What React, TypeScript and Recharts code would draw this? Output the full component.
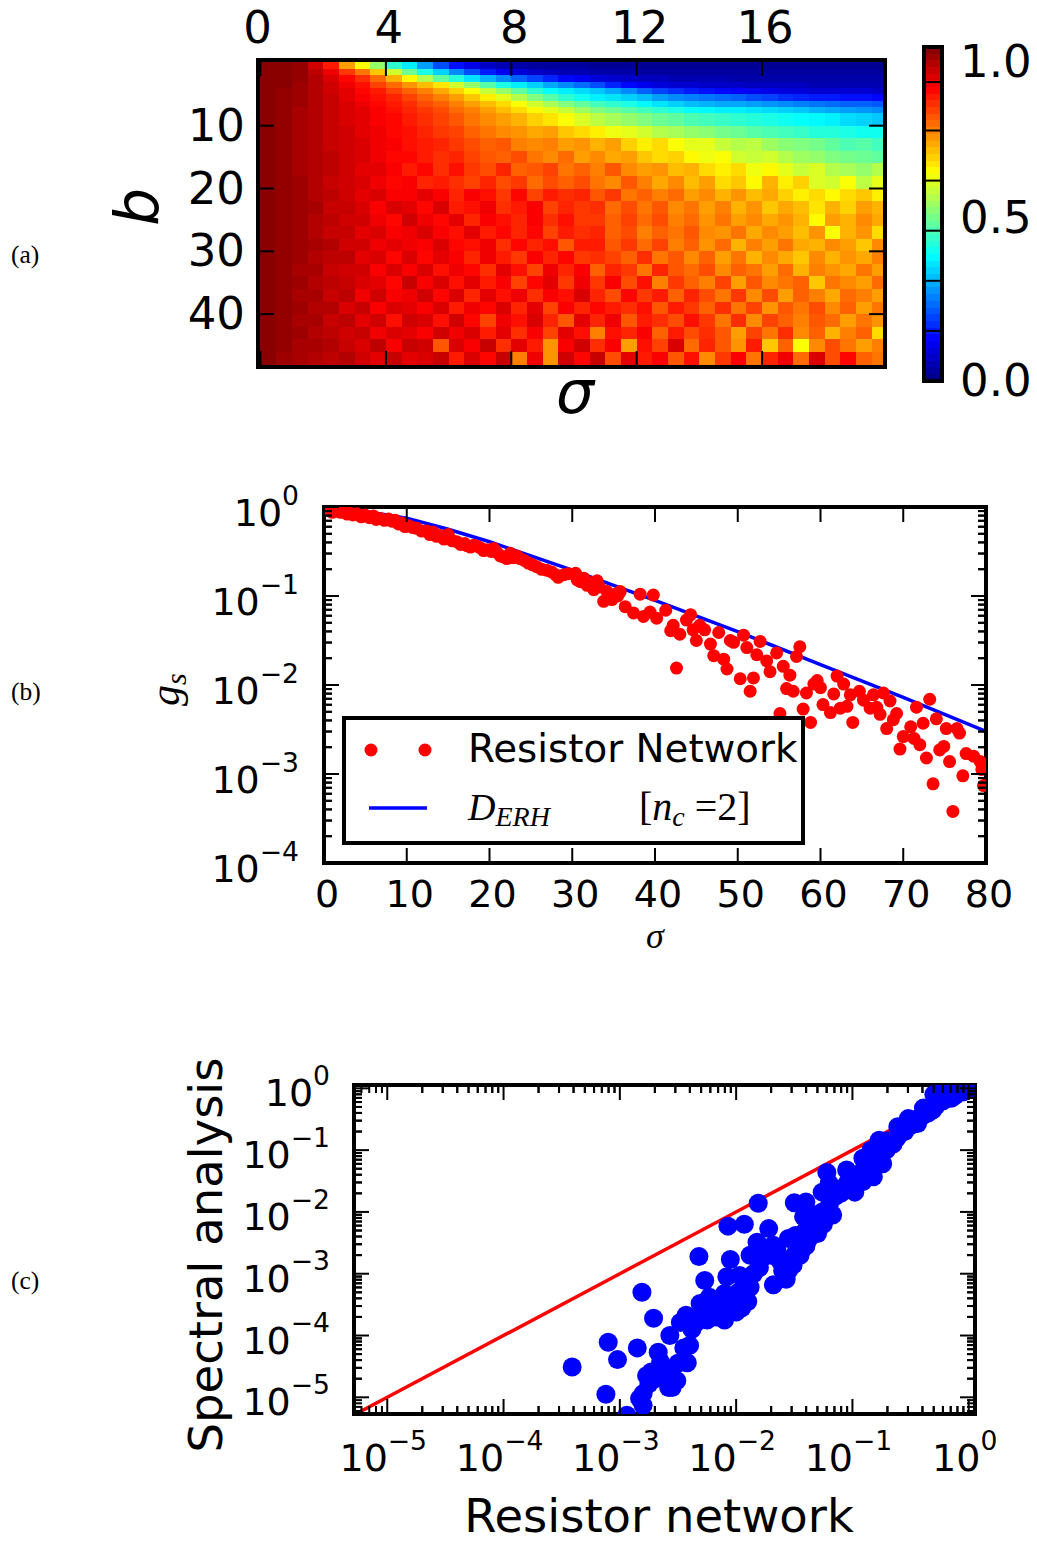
import React from "react";
import {
  ComposedChart,
  Line,
  Scatter,
  XAxis,
  YAxis,
  ReferenceArea,
  Legend,
} from "recharts";

const PAGE_W = 1037;
const PAGE_H = 1543;
const SANS = "DejaVu Sans";
const SERIF = "Liberation Serif";

// (a) heat map, values in hundredths on a coarser grid
const sigmaEdges = [
  -0.08, 0.5, 1, 1.5, 2, 2.5, 3, 3.5, 4, 4.5, 5, 5.5, 6, 6.5, 7, 7.5, 8, 8.5, 9, 9.5, 10, 10.5,
  11, 11.5, 12, 12.5, 13, 13.5, 14, 14.5, 15, 15.5, 16, 16.5, 17, 17.5, 18, 18.5, 19, 19.5, 19.92,
];
const bEdges = [
  -0.46, 1, 2, 3, 4, 5, 6, 7, 8, 10, 12, 14, 16, 18, 20, 22, 24, 26, 28, 30, 32, 34, 36, 38, 40,
  42, 44, 46, 48.42,
];
const heatRows = [
  [99,99,98,92,85,72,62,52,42,36,28,20,14,10,7,5,4,3,3,3,3,2,2,2,2,2,2,2,2,2,2,2,2,2,2,2,2,2,2,2],
  [99,99,98,94,89,82,76,68,58,48,40,33,26,20,15,11,9,7,6,5,5,4,4,4,3,3,3,3,3,3,3,3,3,3,3,3,3,3,3,3],
  [99,99,98,95,91,87,83,77,70,63,55,47,41,35,30,26,22,19,16,13,11,9,8,7,6,6,5,5,5,5,4,4,4,4,4,4,4,4,4,4],
  [99,99,97,95,92,89,86,81,77,73,69,65,58,52,46,40,36,33,29,26,23,20,16,13,11,9,8,8,7,7,7,6,6,6,6,5,5,5,5,5],
  [99,98,97,95,92,90,87,85,81,78,75,71,67,62,57,52,47,42,38,36,34,32,29,26,22,19,17,15,14,13,12,11,10,9,9,8,8,8,8,7],
  [99,98,97,95,93,90,88,86,84,81,78,75,72,68,64,60,55,50,46,42,39,36,35,33,31,28,26,25,24,23,22,20,19,17,16,15,15,14,14,13],
  [99,98,97,95,93,91,89,87,85,83,80,78,75,72,69,66,62,58,54,50,47,44,42,40,37,35,33,31,30,29,29,28,27,26,25,24,23,22,22,21],
  [99,98,96,95,93,91,90,88,86,84,82,80,77,75,72,69,66,63,60,57,53,50,48,46,44,42,40,38,37,36,36,35,34,33,32,30,29,28,27,26],
  [99,98,96,95,93,91,90,88,87,85,83,81,79,76,74,72,70,67,65,62,59,56,54,52,50,48,47,45,44,43,42,41,40,39,38,37,36,34,33,32],
  [99,98,96,95,93,92,90,89,87,86,84,82,81,78,76,74,73,71,72,68,66,64,61,60,58,55,54,52,51,49,48,46,45,44,43,41,41,40,39,39],
  [99,98,96,95,93,92,91,89,88,86,85,84,82,80,78,79,75,74,75,72,73,70,72,67,64,66,62,60,60,57,55,56,53,51,50,49,47,45,46,44],
  [99,98,96,95,94,92,91,89,87,87,85,83,84,81,79,78,80,76,74,77,72,74,71,72,68,66,67,63,61,62,58,57,58,55,53,52,50,49,48,47],
  [99,98,96,95,94,92,90,90,88,85,87,83,86,82,80,84,78,79,81,76,78,75,79,74,72,73,69,70,66,64,66,61,63,60,57,59,55,54,52,55],
  [99,98,97,95,93,92,91,89,87,88,84,85,83,81,84,80,82,77,80,78,80,76,74,79,75,71,74,69,72,66,68,63,70,64,67,59,58,62,56,60],
  [99,98,97,95,94,92,90,91,88,88,90,88,84,88,86,82,87,81,85,83,84,79,82,76,78,75,77,72,74,70,73,69,71,67,64,66,63,66,68,64],
  [99,98,97,96,93,93,91,88,91,90,87,91,85,86,89,83,85,88,81,84,82,83,77,80,76,79,74,76,72,75,70,73,68,71,69,65,70,67,72,70],
  [99,98,97,95,94,92,92,89,87,92,89,87,90,84,88,86,84,88,83,86,82,82,78,81,77,80,75,77,73,76,72,74,71,73,70,63,72,70,74,71],
  [99,98,97,95,93,93,90,91,88,89,91,88,86,90,85,87,84,87,81,85,83,84,78,80,75,78,76,79,74,73,76,71,74,72,69,73,62,70,73,66],
  [99,98,97,96,95,92,92,89,90,89,88,91,87,86,89,83,87,84,86,79,85,85,79,82,77,81,75,78,73,77,70,75,72,76,71,70,74,72,68,74],
  [99,98,97,95,94,94,90,91,87,91,87,90,88,84,89,85,82,88,84,87,82,83,81,78,83,76,79,74,78,72,76,70,74,71,68,74,70,73,71,75],
  [99,98,96,96,93,92,92,88,91,88,91,86,89,87,83,90,86,81,89,84,88,78,84,82,76,84,79,77,80,74,78,76,72,77,70,75,73,71,76,72],
  [99,98,97,95,94,93,91,90,87,93,88,91,86,90,85,88,81,87,90,82,89,82,88,80,86,75,82,78,75,81,72,79,74,76,78,68,76,74,72,77],
  [99,98,96,96,93,94,89,92,88,89,92,87,91,84,90,86,89,83,88,86,91,84,80,87,82,85,78,84,80,76,82,74,80,72,78,75,71,77,75,72],
  [99,98,97,95,95,91,93,88,91,90,88,91,85,89,87,91,84,90,81,88,84,87,85,83,86,79,85,82,78,83,76,81,73,79,76,80,74,78,72,76],
  [99,98,96,96,93,94,90,92,86,92,91,86,92,87,81,89,86,91,84,79,90,84,89,79,85,83,80,86,82,76,83,74,81,78,75,79,77,72,76,73],
  [99,98,97,95,94,92,93,89,91,90,88,92,89,91,85,90,83,88,81,90,86,75,86,84,88,78,85,80,83,79,72,81,76,83,74,78,70,75,78,66],
  [99,98,96,96,95,93,91,94,88,93,92,79,91,88,93,83,90,85,73,88,92,83,88,72,86,81,91,77,84,79,73,85,68,78,62,74,80,76,72,75],
  [99,97,96,95,94,95,92,90,93,90,91,93,85,91,87,93,75,89,73,92,87,93,80,90,85,88,79,86,74,82,88,76,84,89,77,91,80,87,78,76],
];
const heatXTicks = [0, 4, 8, 12, 16];
const heatYTicks = [10, 20, 30, 40];

// colour bar
const barLevels = [
  0, 2, 4, 6, 8, 10, 12, 14, 16, 18, 20, 22, 24, 26, 28, 30, 32, 34, 36, 38, 40, 42, 44, 46, 48, 50,
  52, 54, 56, 58, 60, 62, 64, 66, 68, 70, 72, 74, 76, 78, 80, 82, 84, 86, 88, 90, 92, 94, 96, 98,
];
const barLines = [0.15, 0.3, 0.45, 0.6, 0.75, 0.895];
const barLabels = [0, 0.5, 1];

// (b) log10(g_s) against sigma
const netSigma = [
  0.12,0.73,1.5,2.3,3.15,3.95,4.96,5.97,6.8,7.8,8.6,9.4,10.2,11.2,12.4,13.2,14,15,16.05,17.3,18.1,18.9,19.7,20.5,20.9,
  22.1,22.5,23.7,24.7,25.7,26.9,28.3,29,30.4,30.6,31.8,32.6,33,33.8,34.2,34.8,35.8,36.4,37.4,38.2,38.6,
  39.8,39.4,40.2,41.3,41.9,42.2,43,43.8,44.3,45,44.6,45.4,46,47.7,46.7,47.1,48.3,48.7,42.6,49.1,49.5,50.7,51.1,52.7,
  52.3,53.5,54.7,55.5,53.9,56.3,57.5,57.1,50.3,51.9,51.5,55.9,56.7,58.3,55.1,57.9,58.8,59.2,60,59.6,61.6,60.3,61.2,
  62.4,63.2,62,62.8,63.6,64.7,63.9,65.2,66,66.4,67.6,66.8,67.2,68.4,69.2,68.8,68,70.9,71.6,73.2,72.4,74,75.2,76.5,76.8,
  70,71.3,72,69.6,74.9,74.4,72.8,75.6,77.6,78.5,79.3,79.5,77.2,73.6,76,79.7,
  1,2,2.8,3.5,4.5,5.5,6.3,7.3,8.2,9,9.8,10.7,11.8,12.8,13.6,14.5,15.5,16.5,17,17.7,18.5,19.3,20.2,21.3,21.7,
  22.9,23.3,24.2,25.2,26.3,27.5,28,29.5,31,31.4,32.2,33.3,35.2,35.5,
];
const netLogG = [
  -0.02,-0.03,-0.045,-0.05,-0.07,-0.075,-0.09,-0.1,-0.13,-0.135,-0.15,-0.18,-0.21,-0.24,-0.27,-0.285,-0.32,-0.31,-0.39,-0.435,-0.43,-0.46,-0.48,-0.465,-0.51,
  -0.58,-0.52,-0.58,-0.63,-0.67,-0.71,-0.79,-0.76,-0.745,-0.82,-0.88,-0.93,-0.83,-1.06,-0.95,-1.04,-0.95,-1.12,-1.19,-0.98,-1.23,
  -0.99,-1.18,-1.25,-1.16,-1.39,-1.33,-1.43,-1.27,-1.21,-1.5,-1.38,-1.33,-1.38,-1.41,-1.54,-1.67,-1.71,-1.82,-1.81,-1.5,-1.52,-1.44,-1.58,-1.51,
  -1.66,-1.73,-1.64,-1.79,-1.85,-1.89,-1.57,-1.68,-1.93,-1.92,-2.07,-2.04,-2.07,-2.09,-2.32,-2.27,-2.42,-1.99,-2.03,-1.95,-2.1,-2.22,-2.31,
  -2.26,-2.24,-1.9,-1.99,-2.11,-2.07,-2.42,-2.17,-2.26,-2.11,-2.09,-2.25,-2.33,-2.18,-2.32,-2.39,-2.49,-2.47,-2.25,-2.16,-2.43,-2.38,-2.49,-2.49,-2.54,
  -2.58,-2.6,-2.67,-2.72,-2.69,-2.73,-2.82,-2.86,-2.77,-2.8,-2.86,-2.95,-3.02,-3.11,-3.42,-3.13,
  -0.06,-0.06,-0.08,-0.09,-0.11,-0.12,-0.14,-0.15,-0.16,-0.19,-0.22,-0.23,-0.27,-0.31,-0.33,-0.36,-0.38,-0.42,-0.41,-0.45,-0.44,-0.49,-0.5,-0.55,-0.56,
  -0.57,-0.55,-0.6,-0.65,-0.7,-0.73,-0.76,-0.75,-0.84,-0.8,-0.85,-0.9,-0.98,-1,
];
const erhSigma = [0, 5, 10, 15, 20, 25, 30, 35, 40, 50, 60, 70, 80];
const erhLogG = [0, -0.05, -0.125, -0.25, -0.39, -0.55, -0.71, -0.88, -1.05, -1.4, -1.77, -2.14, -2.52];
const sigmaTicks = [0, 10, 20, 30, 40, 50, 60, 70, 80];
const gDecades = [1, 0.1, 0.01, 0.001, 0.0001];

// (c) log10 of both quantities
const resistorLog = [
  -3.41,-3.1,-3.02,-3.12,-2.85,-2.81,-2.71,-2.8,-2.83,-2.8,-2.94,-2.67,-2.73,-2.77,-2.57,-2.58,-2.65,-2.51,-2.55,-2.42,-2.4,-2.48,-2.43,
  -2.32,-2.27,-2.31,-2.23,-2.1,-2.16,-2.03,-1.9,-1.88,-2.08,-1.97,-2.05,-2.07,-1.93,-1.81,-1.72,-1.82,-1.88,-1.68,-1.68,-1.57,-1.51,-1.45,
  -1.55,-1.49,-1.3,-1.41,-1.42,-1.34,-1.17,-1.26,-1.4,-1.5,-1.26,-1.22,-1.2,-1.08,-0.98,-1.02,-1.05,-0.91,-0.82,-0.88,-0.91,-0.74,-0.84,
  -0.71,-0.77,-0.62,-0.61,-0.44,-0.52,-0.31,-0.39,-0.3,-0.25,-0.2,-0.15,-0.1,-0.05,0,
  -2.75,-2.7,-2.62,-2.6,-2.5,-2.45,-2.38,-2.35,-2.3,-2.28,-2.25,-2.2,-2.17,-2.12,-2.1,-2.05,-2,-1.95,-1.98,-1.92,-1.9,-1.85,-1.8,-1.78,
  -1.75,-1.7,-1.65,-1.62,-1.6,-1.55,-1.5,-1.45,-1.4,-1.38,-1.35,-1.3,-1.25,-1.2,-1.15,-1.1,-1.05,-1,-0.95,-0.9,-0.85,-0.8,-0.78,-0.7,
  -0.65,-0.6,-0.55,-0.5,-0.45,-0.4,-0.35,-0.28,-0.22,-0.15,-0.12,-0.05,-0.01,
];
const spectralLog = [
  -4.51,-4.11,-4.39,-4.95,-4.2,-3.3,-3.72,-4.94,-5.02,-5.13,-5.29,-4.27,-4.59,-4.65,-4,-4.84,-4.43,-4.73,-4.84,-4.44,-4.16,-3.79,-3.67,
  -2.72,-3.11,-3.48,-3.38,-3.32,-3.46,-3.48,-3.45,-3.22,-3.05,-3.03,-2.77,-2.23,-2.2,-1.86,-2.27,-2.49,-2.7,-2.54,-3.18,-3.09,-2.86,-2.7,
  -2.43,-2.38,-2.35,-2.32,-2.08,-2.05,-2.05,-2,-1.84,-1.85,-1.68,-1.36,-1.54,-1.62,-1.68,-1.46,-1.32,-1.51,-1.43,-1.24,-1.13,-1.22,-1,
  -1,-0.84,-0.81,-0.62,-0.57,-0.49,-0.35,-0.32,-0.1,-0.05,-0.03,-0.01,0,0,0,
  -4.78,-4.7,-4.55,-4.62,-4.45,-4.2,-3.9,-3.8,-3.7,-3.62,-3.75,-3.55,-3.7,-3.6,-3.75,-3.6,-3.62,-3.55,-3.3,-3.3,-3.1,-3,-2.9,-2.75,
  -2.65,-2.7,-2.6,-2.8,-2.95,-2.95,-2.7,-2.5,-2.55,-2.45,-2.3,-2.2,-2.2,-1.9,-1.75,-1.7,-1.55,-1.45,-1.4,-1.3,-1.15,-1.2,-1.05,-0.85,
  -0.9,-0.75,-0.7,-0.6,-0.5,-0.45,-0.4,-0.28,-0.2,-0.16,-0.12,-0.06,-0.02,
];
const identityLine = [5.4e-6, 1e-5, 1e-3, 1];
const xDecades = [1e-5, 1e-4, 1e-3, 1e-2, 1e-1, 1];
const yDecades = [1e-5, 1e-4, 1e-3, 1e-2, 1e-1, 1];

const gPoints = netSigma.map((x, i) => ({ x, y: 10 ** netLogG[i] }));
const erhPoints = erhSigma.map((x, i) => ({ x, y: 10 ** erhLogG[i] }));
const specPoints = resistorLog.map((l, i) => ({ x: 10 ** l, y: 10 ** spectralLog[i] }));
const idPoints = identityLine.map((v) => ({ x: v, y: v }));

function jet(v: number) {
  const ch = (c: number) =>
    Math.round(255 * Math.max(0, Math.min(1, 1.5 - Math.abs(4 * v - c))))
      .toString(16)
      .padStart(2, "0");
  return `#${ch(3)}${ch(2)}${ch(1)}`;
}

const withMinors = (decades: number[], lo: number, hi: number) =>
  decades
    .flatMap((d) => [1, 2, 3, 4, 5, 6, 7, 8, 9].map((k) => d * k))
    .concat(decades.map((d) => d / 10).flatMap((d) => [2, 3, 4, 5, 6, 7, 8, 9].map((k) => d * k)))
    .filter((v) => v >= lo && v <= hi);

const expLabel = (v: number) => {
  const e = Math.round(Math.log10(v));
  return e === 0 ? "0" : `\u2212${-e}`;
};

type TickOpts = {
  side: "top" | "bottom" | "left" | "right";
  isMajor?: (v: number) => boolean;
  majorLen?: number;
  minorLen?: number;
  width?: number;
  label?: (v: number) => string | null;
  sup?: (v: number) => string | null;
  fontSize?: number;
  gapX?: number | ((v: number) => number);
  gapY?: number;
  anchor?: "start" | "middle" | "end";
};

// ticks point inwards like matplotlib, so the tick and its text are drawn together here
const makeTick = (o: TickOpts) => (p: any) => {
  const v = p.payload.value;
  const major = o.isMajor ? o.isMajor(v) : true;
  const len = major ? o.majorLen ?? 15 : o.minorLen ?? 8;
  const dir = { top: [0, 1], bottom: [0, -1], left: [1, 0], right: [-1, 0] }[o.side];
  const text = major && o.label ? o.label(v) : null;
  const sup = major && o.sup ? o.sup(v) : null;
  const fs = o.fontSize ?? 38;
  const gx = typeof o.gapX === "function" ? o.gapX(v) : o.gapX ?? 0;
  return (
    <g>
      <line
        x1={p.x}
        y1={p.y}
        x2={p.x + dir[0] * len}
        y2={p.y + dir[1] * len}
        stroke="#000"
        strokeWidth={o.width ?? 2}
      />
      {text !== null && (
        <text
          x={p.x + gx}
          y={p.y + (o.gapY ?? 0)}
          textAnchor={o.anchor ?? "middle"}
          fontFamily={SANS}
          fontSize={fs}
          fill="#000"
        >
          {text}
          {sup && (
            <tspan dy={-fs * 0.56} fontSize={fs * 0.7}>
              {sup}
            </tspan>
          )}
        </text>
      )}
    </g>
  );
};

const frameLine = { stroke: "#000", strokeWidth: 4, strokeLinecap: "square" as const };

const axisBase = {
  type: "number" as const,
  allowDataOverflow: true,
  interval: 0 as const,
  tickLine: false,
  tickSize: 0,
  tickMargin: 0,
  axisLine: frameLine,
  dataKey: "x",
  height: 1,
};

const yAxisBase = { ...axisBase, dataKey: "y", width: 1 };

function Layer({ children }: { children: React.ReactNode }) {
  return <div style={{ position: "absolute", left: 0, top: 0 }}>{children}</div>;
}

// every chart fills the page; the axes take 1px each, so the margins give page coordinates
const pageMargin = (l: number, t: number, r: number, b: number) => ({
  left: l - 1,
  top: t - 1,
  right: PAGE_W - r - 1,
  bottom: PAGE_H - b - 1,
});

function HeatPanel() {
  const xd: [number, number] = [-0.08, 19.92];
  const yd: [number, number] = [-0.46, 48.42];
  return (
    <ComposedChart width={PAGE_W} height={PAGE_H} margin={pageMargin(258, 60, 885, 367)} data={[]}>
      {heatRows.flatMap((row, r) =>
        row.map((val, c) => {
          const col = jet(val / 100);
          return (
            <ReferenceArea
              key={`${r}-${c}`}
              x1={sigmaEdges[c]}
              x2={sigmaEdges[c + 1]}
              y1={bEdges[r]}
              y2={bEdges[r + 1]}
              fill={col}
              fillOpacity={1}
              stroke="none"
              shapeRendering="crispEdges"
            />
          );
        })
      )}
      <XAxis {...axisBase} domain={xd} ticks={heatXTicks}
        tick={makeTick({ side: "bottom", majorLen: 16 })} />
      <XAxis {...axisBase} xAxisId="top" orientation="top" domain={xd} ticks={heatXTicks}
        tick={makeTick({ side: "top", majorLen: 16, label: (v) => String(v), fontSize: 45, gapX: (v) => (v === 0 ? -3 : 3), gapY: -17 })} />
      <YAxis {...yAxisBase} reversed domain={yd} ticks={heatYTicks}
        tick={makeTick({ side: "left", majorLen: 16, label: (v) => String(v), fontSize: 45, gapX: -13, gapY: 15, anchor: "end" })} />
      <YAxis {...yAxisBase} yAxisId="r" orientation="right" reversed domain={yd} ticks={heatYTicks}
        tick={makeTick({ side: "right", majorLen: 16 })} />
    </ComposedChart>
  );
}

function ColorBar() {
  const xd: [number, number] = [0, 1];
  const yd: [number, number] = [0, 1];
  return (
    <ComposedChart width={PAGE_W} height={PAGE_H} margin={pageMargin(924, 47, 942, 381)} data={[]}>
      {barLevels.map((lv) => {
        const col = jet((lv + 1) / 100);
        return (
          <ReferenceArea key={lv} x1={0} x2={1} y1={lv / 100} y2={(lv + 2) / 100}
            fill={col} fillOpacity={1} stroke="none" shapeRendering="crispEdges" />
        );
      })}
      <XAxis {...axisBase} domain={xd} ticks={[]} />
      <XAxis {...axisBase} xAxisId="top" orientation="top" domain={xd} ticks={[]} />
      <YAxis {...yAxisBase} domain={yd} ticks={barLines}
        tick={makeTick({ side: "left", majorLen: 18, width: 2 })} />
      <YAxis {...yAxisBase} yAxisId="r" orientation="right" domain={yd} ticks={barLabels}
        tick={(p: any) => {
          const v = p.payload.value;
          const dy = v === 1 ? 30 : v === 0.5 ? 19 : 15;
          return (
            <text x={p.x + 18} y={p.y + dy} fontFamily={SANS} fontSize={45} fill="#000">
              {v.toFixed(1)}
            </text>
          );
        }} />
    </ComposedChart>
  );
}

function DecayLegend() {
  return (
    <svg width={463} height={129} style={{ display: "block" }}>
      <rect x={2} y={2} width={459} height={125} fill="#fff" stroke="#000" strokeWidth={4} />
      <circle cx={29} cy={34} r={6.5} fill="#f00" />
      <circle cx={83} cy={34} r={6.5} fill="#f00" />
      <line x1={27} y1={92} x2={85} y2={92} stroke="#00f" strokeWidth={3.5} />
      <text x={126} y={46} fontFamily={SANS} fontSize={38.8} fill="#000">Resistor Network</text>
      <text x={126} y={104} fontFamily={SERIF} fontSize={38} fontStyle="italic" fill="#000">
        D<tspan dy={6} fontSize={28}>ERH</tspan>
      </text>
      <text x={297} y={104} fontFamily={SERIF} fontSize={40} fill="#000">
        [<tspan fontStyle="italic">n</tspan>
        <tspan dy={6} fontSize={28} fontStyle="italic">c</tspan>
        <tspan dy={-6}> =2]</tspan>
      </text>
    </svg>
  );
}

function DecayPanel() {
  const xd: [number, number] = [0, 80];
  const yd: [number, number] = [1e-4, 1];
  const yTicks = withMinors(gDecades, 1e-4, 1);
  const isDecade = (v: number) => gDecades.some((d) => Math.abs(d - v) < d * 1e-6);
  return (
    <ComposedChart width={PAGE_W} height={PAGE_H} margin={pageMargin(324, 507, 986, 863)}>
      <XAxis {...axisBase} domain={xd} ticks={sigmaTicks}
        tick={makeTick({ side: "bottom", majorLen: 15, label: (v) => String(v), fontSize: 38, gapX: 3, gapY: 44 })} />
      <XAxis {...axisBase} xAxisId="top" orientation="top" domain={xd} ticks={sigmaTicks}
        tick={makeTick({ side: "top", majorLen: 15 })} />
      <YAxis {...yAxisBase} scale="log" domain={yd} ticks={yTicks}
        tick={makeTick({ side: "left", isMajor: isDecade, majorLen: 15, minorLen: 8, label: () => "10", sup: expLabel, fontSize: 38, gapX: -25, gapY: 19, anchor: "end" })} />
      <YAxis {...yAxisBase} yAxisId="r" orientation="right" scale="log" domain={yd} ticks={yTicks}
        tick={makeTick({ side: "right", isMajor: isDecade, majorLen: 15, minorLen: 8 })} />
      <Scatter data={gPoints} dataKey="y" isAnimationActive={false} fill="#f00"
        shape={(p: any) => <circle cx={p.cx} cy={p.cy} r={6.5} fill="#f00" />} />
      <Line data={erhPoints} dataKey="y" type="linear" stroke="#00f" strokeWidth={3.5} dot={false} isAnimationActive={false} />
      <Legend
        layout="horizontal"
        verticalAlign="middle"
        wrapperStyle={{ position: "absolute", left: 342, top: 716, width: 463, height: 129, margin: 0 }}
        content={() => <DecayLegend />}
      />
    </ComposedChart>
  );
}

function ComparePanel() {
  const xd: [number, number] = [10 ** -5.286, 10 ** 0.054];
  const yd: [number, number] = [10 ** -5.27, 10 ** 0.054];
  const xTicks = withMinors(xDecades, xd[0], xd[1]);
  const yTicks = withMinors(yDecades, yd[0], yd[1]);
  const isDecade = (v: number) => xDecades.some((d) => Math.abs(d - v) < d * 1e-6);
  return (
    <ComposedChart width={PAGE_W} height={PAGE_H} margin={pageMargin(354, 1085, 975, 1414)}>
      <XAxis {...axisBase} scale="log" domain={xd} ticks={xTicks}
        tick={makeTick({ side: "bottom", isMajor: isDecade, majorLen: 15, minorLen: 8, label: () => "10", sup: expLabel, fontSize: 38, gapX: -4, gapY: 57 })} />
      <XAxis {...axisBase} xAxisId="top" orientation="top" scale="log" domain={xd} ticks={xTicks}
        tick={makeTick({ side: "top", isMajor: isDecade, majorLen: 15, minorLen: 8 })} />
      <YAxis {...yAxisBase} scale="log" domain={yd} ticks={yTicks}
        tick={makeTick({ side: "left", isMajor: isDecade, majorLen: 15, minorLen: 8, label: () => "10", sup: expLabel, fontSize: 38, gapX: -24, gapY: 18, anchor: "end" })} />
      <YAxis {...yAxisBase} yAxisId="r" orientation="right" scale="log" domain={yd} ticks={yTicks}
        tick={makeTick({ side: "right", isMajor: isDecade, majorLen: 15, minorLen: 8 })} />
      <Line data={idPoints} dataKey="y" type="linear" stroke="#f00" strokeWidth={3.5} dot={false} isAnimationActive={false} />
      <Scatter data={specPoints} dataKey="y" isAnimationActive={false} fill="#00f"
        shape={(p: any) => <circle cx={p.cx} cy={p.cy} r={9.5} fill="#00f" />} />
    </ComposedChart>
  );
}

function PageText() {
  const tag = { fontFamily: SERIF, fontSize: 25.5, fill: "#000" };
  const big = { fontFamily: SANS, fill: "#000" };
  return (
    <svg width={PAGE_W} height={PAGE_H} style={{ position: "absolute", left: 0, top: 0 }}>
      <text x={11} y={263} {...tag}>(a)</text>
      <text x={11} y={700} {...tag}>(b)</text>
      <text x={11} y={1289} {...tag}>(c)</text>
      <text x={575} y={413} textAnchor="middle" {...big} fontSize={60} fontStyle="italic">σ</text>
      <text transform="translate(158 207) rotate(-90)" textAnchor="middle" {...big} fontSize={60} fontStyle="italic">b</text>
      <text x={655} y={948} textAnchor="middle" fontFamily={SERIF} fontSize={36} fontStyle="italic">σ</text>
      <text transform="translate(179 706) rotate(-90)" fontFamily={SERIF} fontSize={42} fontStyle="italic">
        g<tspan dy={7} fontSize={30}>s</tspan>
      </text>
      <text transform="translate(222 1255) rotate(-90)" textAnchor="middle" {...big} fontSize={46.5}>Spectral analysis</text>
      <text x={659} y={1532} textAnchor="middle" {...big} fontSize={46.5}>Resistor network</text>
    </svg>
  );
}

export default function App() {
  return (
    <div style={{ position: "absolute", left: 0, top: 0, width: PAGE_W, height: PAGE_H, background: "#fff", overflow: "hidden" }}>
      <Layer><HeatPanel /></Layer>
      <Layer><ColorBar /></Layer>
      <Layer><DecayPanel /></Layer>
      <Layer><ComparePanel /></Layer>
      <PageText />
    </div>
  );
}
